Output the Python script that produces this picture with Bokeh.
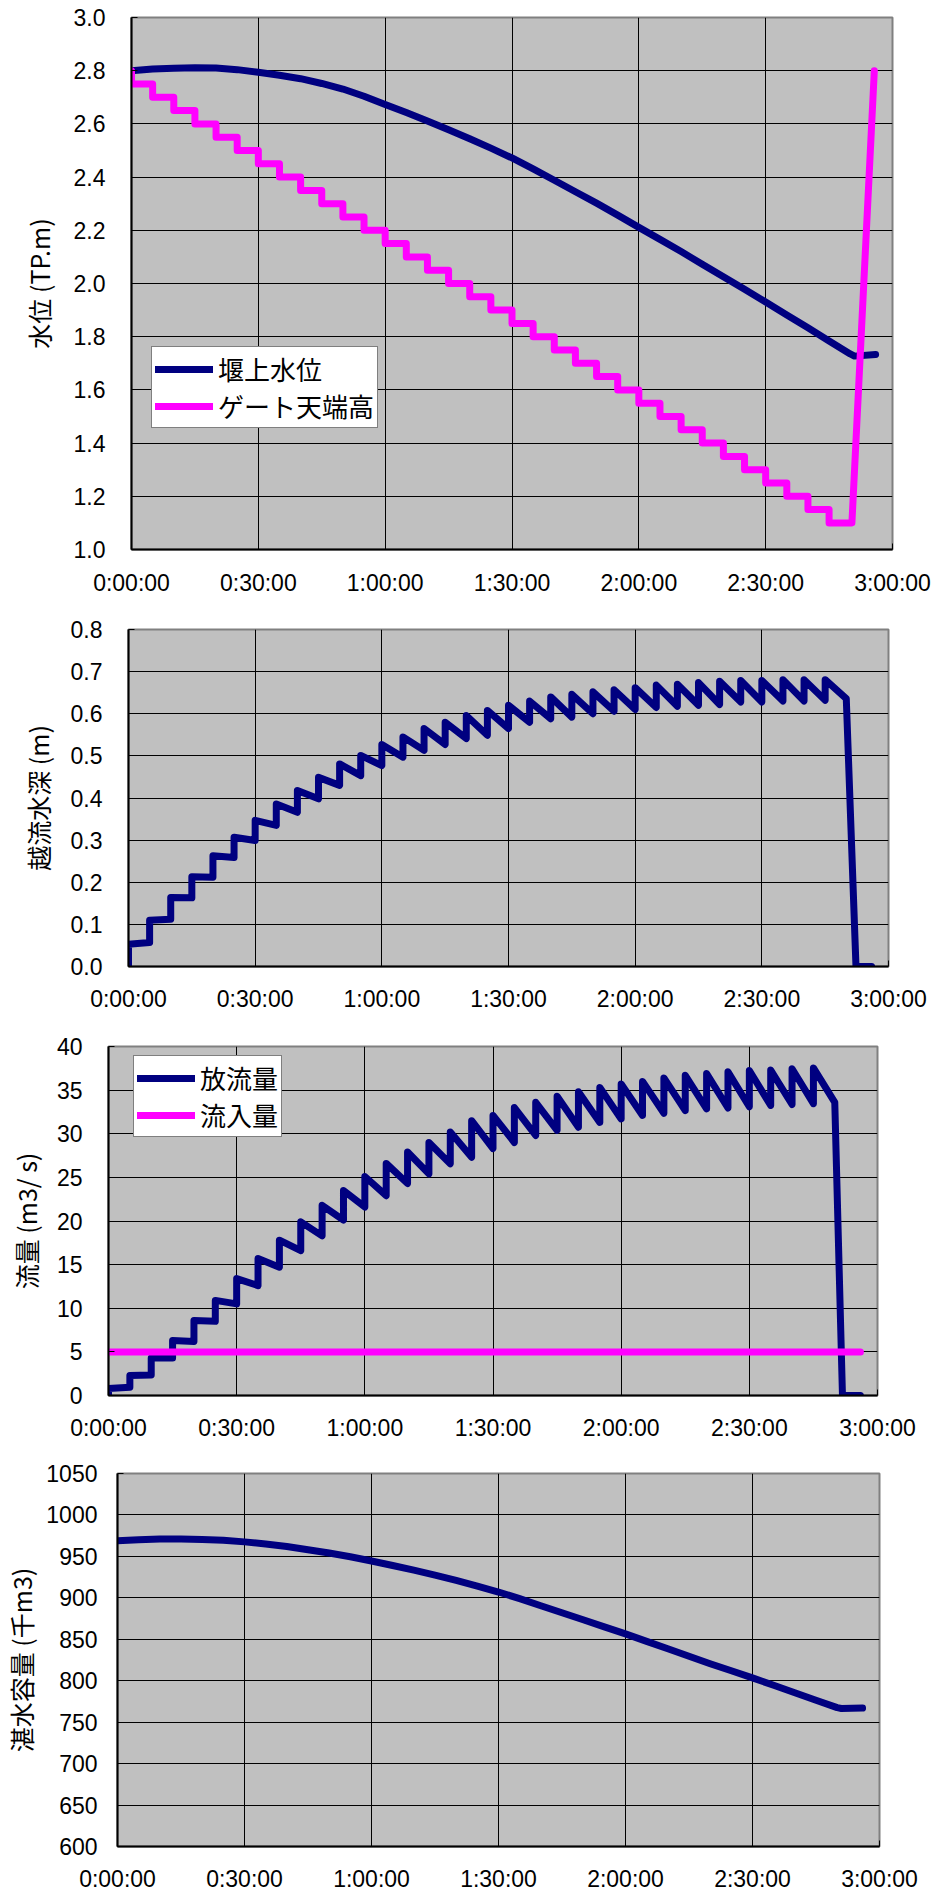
from bokeh.plotting import figure
from bokeh.models import FixedTicker, Legend, LegendItem, Range1d, NumeralTickFormatter
from bokeh.embed import file_html
from bokeh.resources import INLINE

# ---------------- data ----------------
time_ticks = [0, 30, 60, 90, 120, 150, 180]
time_labels = ["0:00:00", "0:30:00", "1:00:00", "1:30:00", "2:00:00", "2:30:00", "3:00:00"]

# water level upstream of weir (TP.m)
water_t = [0, 5, 10, 15, 20, 25, 30, 35, 40, 45, 50, 55, 60, 65, 70, 75, 80, 85, 90,
           95, 100, 105, 110, 115, 120, 125, 130, 135, 140, 145, 150, 155, 160, 165,
           170, 171, 176]
water_level = [2.800, 2.806, 2.809, 2.811, 2.810, 2.804, 2.794, 2.783, 2.770, 2.752,
               2.731, 2.704, 2.673, 2.643, 2.611, 2.578, 2.544, 2.509, 2.472, 2.431,
               2.388, 2.345, 2.302, 2.257, 2.211, 2.166, 2.120, 2.072, 2.025, 1.978,
               1.930, 1.882, 1.834, 1.784, 1.735, 1.727, 1.733]

# gate crest elevation: lowered every 5 minutes, then raised at the end
gate_start_level = 2.80
gate_change_t = [0, 5, 10, 15, 20, 25, 30, 35, 40, 45, 50, 55, 60, 65, 70, 75, 80,
                 85, 90, 95, 100, 105, 110, 115, 120, 125, 130, 135, 140, 145, 150,
                 155, 160, 165]
gate_level = [2.75, 2.70, 2.65, 2.60, 2.55, 2.50, 2.45, 2.40, 2.35, 2.30, 2.25, 2.20,
              2.15, 2.10, 2.05, 2.00, 1.95, 1.90, 1.85, 1.80, 1.75, 1.70, 1.65, 1.60,
              1.55, 1.50, 1.45, 1.40, 1.35, 1.30, 1.25, 1.20, 1.15, 1.10]
gate_rise_t = [170.4, 175.7]
gate_rise_level = [1.10, 2.80]

# overflow depth (m): value just after each gate step and just before the next one
depth_top = [0.053, 0.110, 0.164, 0.213, 0.263, 0.307, 0.347, 0.386, 0.418, 0.449,
             0.481, 0.501, 0.527, 0.545, 0.565, 0.580, 0.596, 0.608, 0.620, 0.630,
             0.640, 0.646, 0.652, 0.657, 0.662, 0.668, 0.670, 0.674, 0.677, 0.679,
             0.679, 0.681, 0.681, 0.681]
depth_end = [0.057, 0.112, 0.163, 0.212, 0.259, 0.299, 0.335, 0.366, 0.398, 0.430,
             0.453, 0.477, 0.497, 0.513, 0.527, 0.541, 0.549, 0.565, 0.580, 0.588,
             0.592, 0.600, 0.606, 0.610, 0.615, 0.618, 0.620, 0.622, 0.628, 0.628,
             0.630, 0.630, 0.632, 0.636]
depth_tail_t = [172.3, 176]
depth_tail = [0.0, 0.0]

# discharge (m3/s)
outflow_top = [0.8, 2.3, 4.3, 6.3, 8.6, 10.9, 13.4, 15.7, 17.8, 19.9, 21.8, 23.5,
               25.1, 26.6, 27.9, 29.0, 30.2, 31.5, 32.1, 33.0, 33.6, 34.3, 34.8,
               35.3, 35.7, 36.0, 36.4, 36.7, 36.9, 37.1, 37.25, 37.3, 37.45, 37.55]
outflow_end = [0.95, 2.35, 4.3, 6.2, 8.5, 10.5, 12.6, 14.7, 16.6, 18.3, 20.1, 21.6,
               22.9, 24.3, 25.4, 26.55, 27.3, 28.3, 29.0, 29.8, 30.4, 30.75, 31.3,
               31.7, 32.1, 32.35, 32.65, 32.85, 32.95, 33.1, 33.25, 33.35, 33.45, 33.6]
outflow_tail_t = [171.8, 176]
outflow_tail = [0.0, 0.0]

inflow_t = [0, 176]
inflow = [5.0, 5.0]

# storage (thousand m3)
storage_t = water_t
storage = [969.0, 970.0, 971.0, 971.0, 970.5, 969.5, 967.5, 965.0, 962.0, 958.0,
           954.0, 949.5, 944.5, 939.0, 933.5, 927.5, 921.0, 914.0, 907.0, 899.0,
           890.5, 882.0, 873.5, 865.0, 856.5, 847.5, 838.5, 829.5, 820.5, 812.0,
           803.5, 794.5, 785.5, 776.5, 767.5, 766.5, 767.0]

level_ticks = [1.0, 1.2, 1.4, 1.6, 1.8, 2.0, 2.2, 2.4, 2.6, 2.8, 3.0]
depth_ticks = [0.0, 0.1, 0.2, 0.3, 0.4, 0.5, 0.6, 0.7, 0.8]
flow_ticks = [0, 5, 10, 15, 20, 25, 30, 35, 40]
storage_ticks = [600, 650, 700, 750, 800, 850, 900, 950, 1000, 1050]

NAVY = "#000080"
MAGENTA = "#FF00FF"
STEP = 5
LW = 7
TOTAL_W = 939


def staircase(start_level, times, levels, tail_t, tail_v):
    xs, ys = [times[0]], [start_level]
    prev = start_level
    for t, lv in zip(times, levels):
        xs += [t, t]
        ys += [prev, lv]
        prev = lv
    xs += list(tail_t)
    ys += list(tail_v)
    return xs, ys


def sawtooth(times, tops, ends, tail_t, tail_v):
    xs, ys = [times[0]], [0.0]
    for t, a, b in zip(times, tops, ends):
        xs += [t, t + STEP]
        ys += [a, b]
    xs += list(tail_t)
    ys += list(tail_v)
    return xs, ys


def make_fig(ylo, yhi, yticks, ylabel, left, fw, top, fh, bottom, ystand, xstand,
             lab_stand, fmt=None):
    right = TOTAL_W - left - fw
    p = figure(frame_width=fw, frame_height=fh, output_backend="svg",
               toolbar_location=None, x_range=Range1d(0, 180), y_range=Range1d(ylo, yhi),
               min_border_left=left, min_border_right=right, min_border_top=top,
               min_border_bottom=bottom)
    p.background_fill_color = "#C0C0C0"
    p.border_fill_color = "white"
    p.outline_line_color = "#808080"
    p.outline_line_width = 2
    p.xaxis.ticker = FixedTicker(ticks=time_ticks)
    p.xaxis.major_label_overrides = {t: l for t, l in zip(time_ticks, time_labels)}
    p.yaxis.ticker = FixedTicker(ticks=yticks)
    if fmt:
        p.yaxis.formatter = NumeralTickFormatter(format=fmt)
    p.xgrid.ticker = FixedTicker(ticks=time_ticks)
    p.ygrid.ticker = FixedTicker(ticks=yticks)
    for g in (p.xgrid, p.ygrid):
        g.grid_line_color = "black"
        g.grid_line_width = 1
        g.grid_line_alpha = 1
    for ax in (p.xaxis, p.yaxis):
        ax.axis_line_color = "black"
        ax.axis_line_width = 2
        ax.major_tick_in = 6
        ax.major_tick_out = 0
        ax.minor_tick_line_color = None
        ax.major_tick_line_color = "black"
        ax.major_label_text_font = "Liberation Sans"
        ax.major_label_text_font_size = "23px"
        ax.major_label_text_color = "black"
    p.yaxis.major_label_standoff = ystand
    p.xaxis.major_label_standoff = xstand
    p.yaxis.axis_label = ylabel
    p.yaxis.axis_label_text_font = "Noto Sans CJK JP"
    p.yaxis.axis_label_text_font_size = "25px"
    p.yaxis.axis_label_text_font_style = "normal"
    p.yaxis.axis_label_text_color = "black"
    p.yaxis.axis_label_standoff = lab_stand
    return p


def style_legend(p, items, loc):
    leg = Legend(items=items, location=loc)
    leg.label_text_font = "Noto Sans CJK JP"
    leg.label_text_font_size = "26px"
    leg.label_text_color = "black"
    leg.glyph_width = 58
    leg.glyph_height = 28
    leg.label_height = 28
    leg.label_standoff = 5
    leg.padding = 3
    leg.spacing = 0
    leg.margin = 0
    leg.border_line_color = "black"
    leg.border_line_width = 1
    leg.background_fill_color = "white"
    leg.background_fill_alpha = 1
    p.add_layout(leg)


# ---------- chart 1: water level ----------
p1 = make_fig(1.0, 3.0, level_ticks, "水位 (TP.m)", 131, 761, 17, 532, 61, 26, 20, 14, "0.0")
gx, gy = staircase(gate_start_level, gate_change_t, gate_level, gate_rise_t, gate_rise_level)
r_w = p1.line(water_t, water_level, line_color=NAVY, line_width=LW,
              line_join="round", line_cap="round")
r_g = p1.line(gx, gy, line_color=MAGENTA, line_width=LW, line_join="round", line_cap="round")
style_legend(p1, [LegendItem(label="堰上水位", renderers=[r_w]),
                  LegendItem(label="ゲート天端高", renderers=[r_g])], (20, 121))

# ---------- chart 2: overflow depth ----------
p2 = make_fig(0.0, 0.8, depth_ticks, "越流水深 (m)", 128, 760, 19, 337, 54, 26, 19, 12, "0.0")
dx, dy = sawtooth(gate_change_t, depth_top, depth_end, depth_tail_t, depth_tail)
p2.line(dx, dy, line_color=NAVY, line_width=LW, line_join="round", line_cap="round")

# ---------- chart 3: discharge ----------
p3 = make_fig(0, 40, flow_ticks, "流量 (m3/ s)", 108, 769, 26, 349, 45, 26, 19, 10)
qx, qy = sawtooth(gate_change_t, outflow_top, outflow_end, outflow_tail_t, outflow_tail)
r_q = p3.line(qx, qy, line_color=NAVY, line_width=LW, line_join="round", line_cap="round")
r_i = p3.line(inflow_t, inflow, line_color=MAGENTA, line_width=LW, line_join="round",
              line_cap="round")
style_legend(p3, [LegendItem(label="放流量", renderers=[r_q]),
                  LegendItem(label="流入量", renderers=[r_i])], (25, 258))

# ---------- chart 4: storage ----------
p4 = make_fig(600, 1050, storage_ticks, "湛水容量 (千m3)", 114, 762, 30, 373, 47, 20, 19, 4)
p4.line(storage_t, storage, line_color=NAVY, line_width=LW, line_join="round",
        line_cap="round")

# separate roots so that each chart keeps its own plot-area position
open("out.html", "w").write(file_html([p1, p2, p3, p4], INLINE))
